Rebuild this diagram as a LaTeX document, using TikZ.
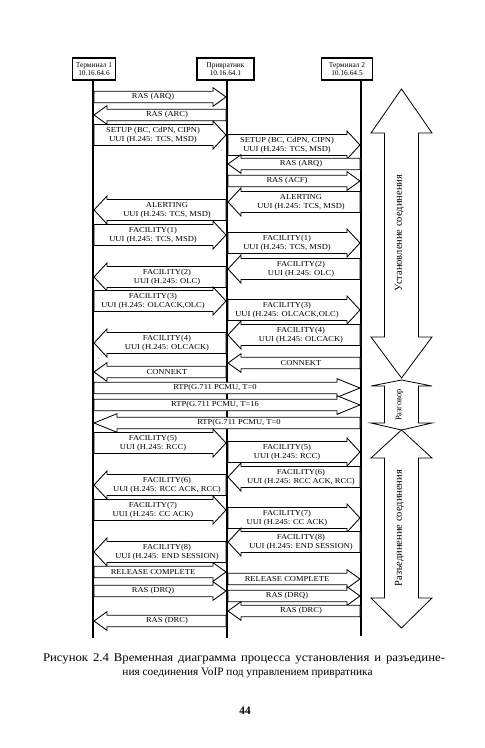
\documentclass[tikz,border=0pt]{standalone}
\usepackage{fontspec}
\setmainfont{Liberation Serif}
\newfontfamily\lblfont{Liberation Serif}[FakeStretch=1.12]
\newfontfamily\capfont{Liberation Serif}[FakeStretch=1.08]
\newcounter{msgc}
\def\LA{93}\def\LB{227}\def\LC{361}
\def\hs{5.8}\def\hd{10.5}
\newcommand\msg[6][14]{%
  \stepcounter{msgc}%
  \pgfmathsetmacro\sgn{2*(#3>#2)-1}%
  \pgfmathsetmacro\tx{#2+\sgn*1}%
  \pgfmathsetmacro\px{#3-\sgn*1}%
  \pgfmathsetmacro\bx{#3-\sgn*#1}%
  \pgfmathsetmacro\mx{(#2+\bx)/2}%
  \pgfmathsetmacro\ya{#4-#5}%
  \pgfmathsetmacro\yb{#4+#5}%
  \pgfmathsetmacro\yc{#4-#5-3.5}%
  \pgfmathsetmacro\yd{#4+#5+3.5}%
  \draw[blk] (\tx,\ya) -- (\bx,\ya) -- (\bx,\yc) -- (\px,#4) -- (\bx,\yd) -- (\bx,\yb) -- (\tx,\yb) -- cycle;
  \node[lbl] (m\arabic{msgc}) at (\mx,#4) {#6};%
}
\begin{document}
\begin{tikzpicture}[x=1pt,y=-1pt,
  hdr/.style={draw, line width=1.6pt, fill=white, minimum height=22pt, inner sep=1pt,
    align=center, font=\fontsize{7.4}{8.4}\selectfont},
  life/.style={line width=1.8pt},
  blk/.style={draw, line width=0.85pt, fill=white, line join=miter},
  lbl/.style={font=\lblfont\fontsize{7.6}{8.8}\selectfont, align=center, inner sep=0pt},
  bigarr/.style={draw, line width=0.8pt, fill=white, line join=miter},
  vtxt/.style={rotate=90, inner sep=0pt}]
\useasboundingbox (0,0) rectangle (485,748);
\fill[white] (0,0) rectangle (485,748);

% header boxes
\node[hdr, minimum width=43pt] (t1) at (94,69) {Терминал 1\\10.16.64.6};
\node[hdr, minimum width=57pt] (gk) at (225.5,69) {Привратник\\10.16.64.1};
\node[hdr, minimum width=51pt] (t2) at (347,69) {Терминал 2\\10.16.64.5};

% lifelines
\coordinate (e1) at (\LA,638);
\coordinate (e2) at (\LB,638);
\coordinate (e3) at (\LC,636);
\draw[life] (\LA,80) -- (e1);
\draw[life] (\LB,80) -- (e2);
\draw[life] (\LC,80) -- (e3);

% messages
\msg{\LA}{\LB}{97}{\hs}{RAS (ARQ)}
\msg{\LB}{\LA}{115}{\hs}{RAS (ARC)}
\msg{\LA}{\LB}{135}{\hd}{SETUP (BC, CdPN, CIPN)\\UUI (H.245: TCS, MSD)}
\msg{\LB}{\LC}{145}{\hd}{SETUP (BC, CdPN, CIPN)\\UUI (H.245: TCS, MSD)}
\msg{\LC}{\LB}{164}{\hs}{RAS (ARQ)}
\msg{\LB}{\LC}{181}{\hs}{RAS (ACF)}
\msg{\LC}{\LB}{202}{\hd}{ALERTING\\UUI (H.245: TCS, MSD)}
\msg{\LB}{\LA}{210}{\hd}{ALERTING\\UUI (H.245: TCS, MSD)}
\msg{\LA}{\LB}{235}{\hd}{FACILITY(1)\\UUI (H.245: TCS, MSD)}
\msg{\LB}{\LC}{243}{\hd}{FACILITY(1)\\UUI (H.245: TCS, MSD)}
\msg{\LC}{\LB}{269}{\hd}{FACILITY(2)\\UUI (H.245: OLC)}
\msg{\LB}{\LA}{277}{\hd}{FACILITY(2)\\UUI (H.245: OLC)}
\msg{\LA}{\LB}{301}{\hd}{FACILITY(3)\\UUI (H.245: OLCACK,OLC)}
\msg{\LB}{\LC}{310}{\hd}{FACILITY(3)\\UUI (H.245: OLCACK,OLC)}
\msg{\LC}{\LB}{335}{\hd}{FACILITY(4)\\UUI (H.245: OLCACK)}
\msg{\LB}{\LA}{343}{\hd}{FACILITY(4)\\UUI (H.245: OLCACK)}
\msg{\LC}{\LB}{363}{\hs}{CONNEKT}
\msg{\LB}{\LA}{372}{\hs}{CONNEKT}
\msg[24]{\LA}{\LC}{388}{\hs}{RTP(G.711 PCMU, T=0}
\msg[24]{\LA}{\LC}{405}{\hs}{RTP(G.711 PCMU, T=16}
\msg[24]{\LC}{\LA}{423}{\hs}{RTP(G.711 PCMU, T=0}
\msg{\LA}{\LB}{443}{\hd}{FACILITY(5)\\UUI (H.245: RCC)}
\msg{\LB}{\LC}{452}{\hd}{FACILITY(5)\\UUI (H.245: RCC)}
\msg{\LC}{\LB}{477}{\hd}{FACILITY(6)\\UUI (H.245: RCC ACK, RCC)}
\msg{\LB}{\LA}{485}{\hd}{FACILITY(6)\\UUI (H.245: RCC ACK, RCC)}
\msg{\LA}{\LB}{510}{\hd}{FACILITY(7)\\UUI (H.245: CC ACK)}
\msg{\LB}{\LC}{518}{\hd}{FACILITY(7)\\UUI (H.245: CC ACK)}
\msg{\LC}{\LB}{542}{\hd}{FACILITY(8)\\UUI (H.245: END SESSION)}
\msg{\LB}{\LA}{552}{\hd}{FACILITY(8)\\UUI (H.245: END SESSION)}
\msg{\LA}{\LB}{572}{\hs}{RELEASE COMPLETE}
\msg{\LB}{\LC}{579}{\hs}{RELEASE COMPLETE}
\msg{\LA}{\LB}{591}{\hs}{RAS (DRQ)}
\msg{\LB}{\LC}{596}{\hs}{RAS (DRQ)}
\msg{\LC}{\LB}{611}{\hs}{RAS (DRC)}
\msg{\LB}{\LA}{621}{\hs}{RAS (DRC)}

% phase arrows
\draw[bigarr] (401.5,89) -- (432,133) -- (418.5,133) -- (418.5,337) -- (432,337) -- (401.5,378)
  -- (371,337) -- (384.5,337) -- (384.5,133) -- (371,133) -- cycle;
\node[vtxt, font=\fontsize{10.5}{12}\selectfont] (ph1) at (399.5,233) {Установление соединения};
\draw[bigarr] (401.5,380) -- (432,386) -- (418.5,386) -- (418.5,423) -- (432,423) -- (401.5,430)
  -- (371,423) -- (384.5,423) -- (384.5,386) -- (371,386) -- cycle;
\node[vtxt, font=\fontsize{8.5}{10}\selectfont] (ph2) at (399.5,405) {Разговор};
\draw[bigarr] (401.5,430) -- (432,458) -- (418.5,458) -- (418.5,598) -- (432,598) -- (401.5,628)
  -- (371,598) -- (384.5,598) -- (384.5,458) -- (371,458) -- cycle;
\node[vtxt, font=\fontsize{10.5}{12}\selectfont] (ph3) at (399.5,528) {Разъединение соединения};

% caption
\node[inner sep=0pt, font=\capfont\fontsize{11.8}{13}\selectfont] (cap1) at (244,659)
  {\makebox[402pt][s]{Рисунок 2.4 Временная диаграмма процесса установления и разъедине-}};
\node[inner sep=0pt, font=\fontsize{11.3}{13}\selectfont] (cap2) at (247.5,673)
  {ния соединения VoIP под управлением привратника};
\node[inner sep=0pt, font=\bfseries\fontsize{11.3}{13}\selectfont] (pg) at (245,711) {44};
\end{tikzpicture}
\end{document}
